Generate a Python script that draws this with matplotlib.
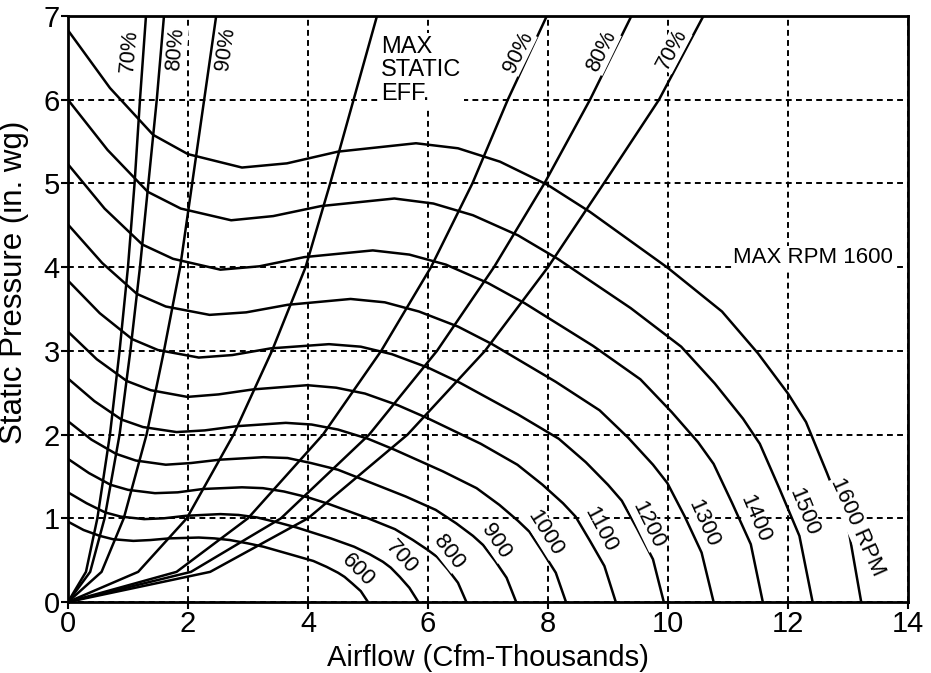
import matplotlib
matplotlib.use("Agg")
import matplotlib.pyplot as plt
from matplotlib import font_manager

# --- fan curves: airflow (thousand cfm) vs static pressure (in. wg), per RPM ---
RPM_1600_X = [0, 0.70, 1.42, 2.00, 2.90, 3.65, 4.50, 5.80, 6.50, 7.20, 8.00, 8.70, 10.00, 10.90, 11.50, 12.00, 12.30, 12.65, 13.00, 13.22]
RPM_1600_Y = [6.83, 6.14, 5.58, 5.35, 5.19, 5.24, 5.38, 5.48, 5.42, 5.26, 4.98, 4.66, 3.99, 3.47, 2.97, 2.49, 2.15, 1.54, 0.90, 0]
RPM_1500_X = [0, 0.66, 1.33, 1.88, 2.72, 3.42, 4.22, 5.44, 6.09, 6.75, 7.50, 8.16, 9.38, 10.22, 10.78, 11.25, 11.53, 11.86, 12.19, 12.41]
RPM_1500_Y = [6.00, 5.40, 4.90, 4.70, 4.56, 4.61, 4.73, 4.82, 4.76, 4.62, 4.38, 4.10, 3.51, 3.05, 2.61, 2.19, 1.89, 1.35, 0.79, 0]
RPM_1400_X = [0, 0.61, 1.24, 1.75, 2.54, 3.19, 3.94, 5.08, 5.69, 6.30, 7.00, 7.61, 8.75, 9.54, 10.06, 10.50, 10.76, 11.07, 11.38, 11.58]
RPM_1400_Y = [5.23, 4.70, 4.27, 4.10, 3.97, 4.01, 4.12, 4.20, 4.15, 4.03, 3.81, 3.57, 3.06, 2.66, 2.27, 1.91, 1.65, 1.18, 0.69, 0]
RPM_1300_X = [0, 0.57, 1.15, 1.63, 2.36, 2.97, 3.66, 4.71, 5.28, 5.85, 6.50, 7.07, 8.13, 8.86, 9.34, 9.75, 9.99, 10.28, 10.56, 10.76]
RPM_1300_Y = [4.51, 4.05, 3.68, 3.53, 3.43, 3.46, 3.55, 3.62, 3.58, 3.47, 3.29, 3.08, 2.63, 2.29, 1.96, 1.64, 1.42, 1.02, 0.59, 0]
RPM_1200_X = [0, 0.53, 1.07, 1.50, 2.18, 2.74, 3.38, 4.35, 4.88, 5.40, 6.00, 6.53, 7.50, 8.18, 8.63, 9.00, 9.23, 9.49, 9.75, 9.93]
RPM_1200_Y = [3.84, 3.45, 3.14, 3.01, 2.92, 2.95, 3.03, 3.08, 3.05, 2.96, 2.80, 2.62, 2.24, 1.95, 1.67, 1.40, 1.21, 0.87, 0.51, 0]
RPM_1100_X = [0, 0.48, 0.98, 1.38, 1.99, 2.51, 3.09, 3.99, 4.47, 4.95, 5.50, 5.98, 6.88, 7.49, 7.91, 8.25, 8.46, 8.70, 8.94, 9.13]
RPM_1100_Y = [3.23, 2.90, 2.64, 2.53, 2.45, 2.48, 2.54, 2.59, 2.56, 2.49, 2.35, 2.20, 1.89, 1.64, 1.40, 1.18, 1.02, 0.73, 0.43, 0]
RPM_1000_X = [0, 0.44, 0.89, 1.25, 1.81, 2.28, 2.81, 3.63, 4.06, 4.50, 5.00, 5.44, 6.25, 6.81, 7.19, 7.50, 7.69, 7.91, 8.13, 8.30]
RPM_1000_Y = [2.67, 2.40, 2.18, 2.09, 2.03, 2.05, 2.10, 2.14, 2.12, 2.06, 1.95, 1.82, 1.56, 1.36, 1.16, 0.97, 0.84, 0.60, 0.35, 0]
RPM_900_X = [0, 0.39, 0.80, 1.13, 1.63, 2.05, 2.53, 3.26, 3.66, 4.05, 4.50, 4.89, 5.63, 6.13, 6.47, 6.75, 6.92, 7.12, 7.31, 7.47]
RPM_900_Y = [2.16, 1.94, 1.77, 1.69, 1.64, 1.66, 1.70, 1.73, 1.72, 1.66, 1.58, 1.47, 1.26, 1.10, 0.94, 0.79, 0.68, 0.49, 0.29, 0]
RPM_800_X = [0, 0.35, 0.71, 1.00, 1.45, 1.83, 2.25, 2.90, 3.25, 3.60, 4.00, 4.35, 5.00, 5.45, 5.75, 6.00, 6.15, 6.33, 6.50, 6.64]
RPM_800_Y = [1.71, 1.54, 1.40, 1.34, 1.30, 1.31, 1.35, 1.37, 1.36, 1.32, 1.25, 1.17, 1.00, 0.87, 0.74, 0.62, 0.54, 0.39, 0.23, 0]
RPM_700_X = [0, 0.31, 0.62, 0.88, 1.27, 1.60, 1.97, 2.54, 2.84, 3.15, 3.50, 3.81, 4.38, 4.77, 5.03, 5.25, 5.38, 5.53, 5.69, 5.84]
RPM_700_Y = [1.31, 1.18, 1.07, 1.02, 0.99, 1.00, 1.03, 1.05, 1.04, 1.01, 0.95, 0.89, 0.76, 0.66, 0.57, 0.48, 0.41, 0.30, 0.17, 0]
RPM_600_X = [0, 0.26, 0.53, 0.75, 1.09, 1.37, 1.69, 2.18, 2.44, 2.70, 3.00, 3.26, 3.75, 4.09, 4.31, 4.50, 4.61, 4.74, 4.88, 5.00]
RPM_600_Y = [0.96, 0.86, 0.79, 0.75, 0.73, 0.74, 0.76, 0.77, 0.76, 0.74, 0.70, 0.66, 0.56, 0.49, 0.42, 0.35, 0.30, 0.22, 0.13, 0]

# --- efficiency lines: airflow where each line crosses these pressures ---
EFF_Y = [0, 0.36, 1, 2, 3, 4, 5, 6, 7]
EFF_70_LEFT_X = [0, 0.30, 0.49, 0.70, 0.86, 1.00, 1.11, 1.20, 1.30]
EFF_80_LEFT_X = [0, 0.37, 0.61, 0.86, 1.04, 1.20, 1.34, 1.48, 1.60]
EFF_90_LEFT_X = [0, 0.56, 0.93, 1.31, 1.60, 1.87, 2.07, 2.27, 2.47]
EFF_MAX_X = [0, 1.17, 1.98, 2.76, 3.40, 3.96, 4.37, 4.76, 5.15]
EFF_90_RIGHT_X = [0, 1.81, 3.00, 4.25, 5.22, 6.05, 6.74, 7.33, 7.98]
EFF_80_RIGHT_X = [0, 2.05, 3.55, 5.02, 6.15, 7.10, 7.94, 8.70, 9.39]
EFF_70_RIGHT_X = [0, 2.37, 4.00, 5.66, 6.95, 8.00, 8.93, 9.85, 10.59]

# --- curve labels: text, x, y, rotation (deg) ---
RPM_LABELS = [
    ("600", 4.84, 0.38, -45),
    ("700", 5.56, 0.54, -48),
    ("800", 6.34, 0.60, -52),
    ("900", 7.14, 0.72, -56),
    ("1000", 7.95, 0.82, -58),
    ("1100", 8.87, 0.86, -62),
    ("1200", 9.67, 0.92, -64),
    ("1300", 10.59, 0.94, -66),
    ("1400", 11.45, 1.00, -67),
    ("1500", 12.26, 1.08, -68),
    ("1600 RPM", 13.15, 0.90, -66),
]
EFF_LABELS = [
    ("70%", 1.03, 6.58, 85),
    ("80%", 1.80, 6.60, 85),
    ("90%", 2.63, 6.61, 82),
    ("90%", 7.50, 6.57, 64),
    ("80%", 8.90, 6.58, 64),
    ("70%", 10.07, 6.60, 62),
]

FIGSIZE = (9.31, 6.73)
DPI = 100


def _pick_font(*names: str) -> str:
    have = {f.name for f in font_manager.fontManager.ttflist}
    for n in names:
        if n in have:
            return n
    return "DejaVu Sans"


def main() -> None:
    narrow = _pick_font("Liberation Sans Narrow", "Liberation Sans")
    regular = _pick_font("Liberation Sans", "DejaVu Sans")
    plt.rcParams["font.family"] = [narrow, "DejaVu Sans"]

    fig = plt.figure(figsize=FIGSIZE, dpi=DPI, facecolor="white")
    ax = fig.add_axes([0.073, 0.1055, 0.9023, 0.8707])

    curves = [
        (RPM_600_X, RPM_600_Y), (RPM_700_X, RPM_700_Y), (RPM_800_X, RPM_800_Y),
        (RPM_900_X, RPM_900_Y), (RPM_1000_X, RPM_1000_Y), (RPM_1100_X, RPM_1100_Y),
        (RPM_1200_X, RPM_1200_Y), (RPM_1300_X, RPM_1300_Y), (RPM_1400_X, RPM_1400_Y),
        (RPM_1500_X, RPM_1500_Y), (RPM_1600_X, RPM_1600_Y),
    ]
    for xs, ys in curves:
        ax.plot(xs, ys, color="black", linewidth=1.8, solid_joinstyle="round", zorder=3)

    for xs in (EFF_70_LEFT_X, EFF_80_LEFT_X, EFF_90_LEFT_X, EFF_MAX_X,
               EFF_90_RIGHT_X, EFF_80_RIGHT_X, EFF_70_RIGHT_X):
        ax.plot(xs, EFF_Y, color="black", linewidth=1.8, solid_joinstyle="round", zorder=3)

    box = dict(facecolor="white", edgecolor="none", pad=0.5)
    for txt, x, y, rot in RPM_LABELS:
        ax.text(x, y, txt, rotation=rot, rotation_mode="anchor", ha="center", va="center",
                fontsize=16, family=[regular], bbox=box, zorder=4)
    for txt, x, y, rot in EFF_LABELS:
        ax.text(x, y, txt, rotation=rot, rotation_mode="anchor", ha="center", va="center",
                fontsize=15.5, family=[regular], bbox=box, zorder=4)

    ax.text(5.22, 6.76, "MAX\nSTATIC\nEFF.", ha="left", va="top", fontsize=17,
            family=[regular], linespacing=1.08,
            bbox=dict(facecolor="white", edgecolor="none", pad=2), zorder=4)
    ax.text(11.09, 4.11, "MAX RPM 1600", ha="left", va="center", fontsize=16,
            family=[regular], bbox=dict(facecolor="white", edgecolor="none", pad=1), zorder=4)

    ax.set_xlim(0, 14)
    ax.set_ylim(0, 7)
    ax.set_xticks(range(0, 15, 2))
    ax.set_yticks(range(0, 8))
    ax.grid(True, color="black", linestyle=(0, (3, 2.2)), linewidth=1.4)
    ax.set_axisbelow(True)
    for sp in ax.spines.values():
        sp.set_linewidth(2.0)
    ax.tick_params(direction="out", length=5, width=1.5, labelsize=21, pad=1)

    ax.set_xlabel("Airflow (Cfm-Thousands)", fontsize=21, labelpad=4)
    ax.set_ylabel("Static Pressure (in. wg)", fontsize=22.5, family=[regular])
    ax.yaxis.set_label_coords(-0.046, 0.546)

    fig.savefig("out.png", dpi=DPI, facecolor="white")
    plt.close(fig)


if __name__ == "__main__":
    main()
